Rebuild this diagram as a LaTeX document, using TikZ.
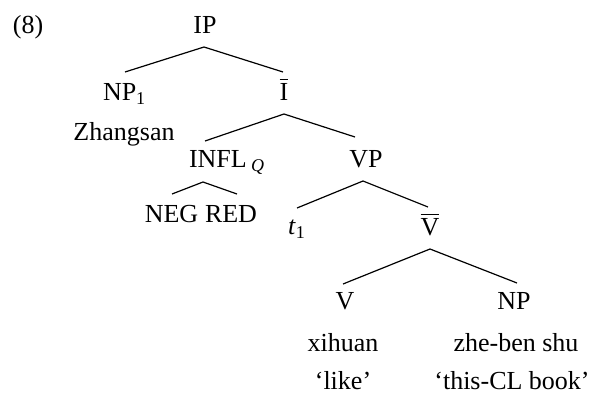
\documentclass[tikz,border=0pt]{standalone}
\usepackage{fontspec}
\setmainfont{Liberation Serif}
\usetikzlibrary{calc}
\newcommand\barover[1]{\setbox0\hbox{#1}\rlap{\rule[\dimexpr\ht0+2.6pt\relax]{\wd0}{1.7pt}}\box0}
\newcommand\lowsub[1]{\raisebox{-4.5pt}{\fontsize{18}{18}\selectfont #1}}
\begin{document}
\begin{tikzpicture}[x=1pt,y=-1pt,
  lab/.style={inner sep=0pt,outer sep=0pt,anchor=base,font=\fontsize{26}{30}\selectfont},
  labw/.style={lab,anchor=base west},
  br/.style={line width=1.2pt}]
\useasboundingbox (0,0) rectangle (593,394);
\node[lab] (ex) at (28,33) {(8)};
\node[lab] (IP) at (205,33) {IP};
\node[labw] (NP1) at (103,100) {NP\lowsub{1}};
\node[lab] (Ib) at (284,100) {\barover{I}};
\node[lab] (Zh) at (124,140) {Zhangsan};
\node[labw] (INFL) at (189,167) {INFL\,\lowsub{\itshape Q}};
\node[lab] (VP) at (366,167) {VP};
\node[lab] (NEG) at (171.5,222) {NEG};
\node[lab] (RED) at (231,222) {RED};
\node[labw] (t1) at (288,234) {\textit{t}\lowsub{1}};
\node[lab] (Vb) at (430,235) {\barover{V}};
\node[lab] (V) at (345,309) {V};
\node[lab] (NP) at (514,309) {NP};
\node[lab] (xh) at (343,351) {xihuan};
\node[lab] (zb) at (516,351) {zhe-ben shu};
\node[lab] (gl1) at (343,389) {‘like’};
\node[lab] (gl2) at (512,389) {‘this-CL book’};
\draw[br] ($(NP1.base west)+(22,-28)$) -- ($(IP.base)+(-1,14)$) -- ($(Ib.base)+(-1,-28)$);
\draw[br] ($(INFL.base west)+(16,-26)$) -- ($(Ib.base)+(0,14)$) -- ($(VP.base)+(-11,-30)$);
\draw[br] ($(NEG.base)+(0.5,-28)$) -- ($(INFL.base west)+(14,15)$) -- ($(RED.base)+(6,-28)$);
\draw[br] ($(t1.base west)+(9,-26)$) -- ($(VP.base)+(-3,14)$) -- ($(Vb.base)+(-2,-28)$);
\draw[br] ($(V.base)+(-2,-25)$) -- ($(Vb.base)+(0,14)$) -- ($(NP.base)+(3,-26)$);
\end{tikzpicture}
\end{document}
